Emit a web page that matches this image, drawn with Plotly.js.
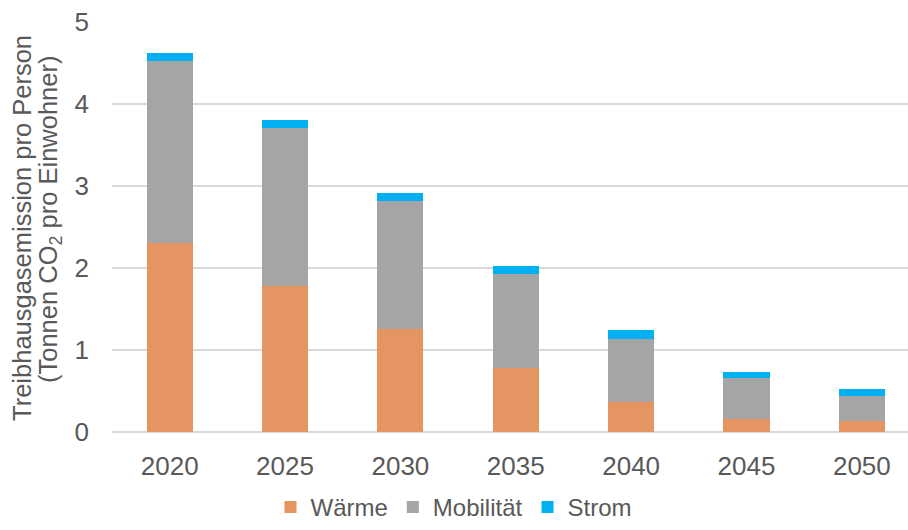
<!DOCTYPE html>
<html>
<head>
<meta charset="utf-8">
<script src="https://cdn.plot.ly/plotly-3.0.1.min.js"></script>
<style>html,body{margin:0;padding:0;background:#fff;}#chart{width:908px;height:530px;}</style>
</head>
<body>
<div id="chart"></div>
<script>
const years = ['2020','2025','2030','2035','2040','2045','2050'];
const waerme = [2.31, 1.78, 1.26, 0.78, 0.37, 0.155, 0.13];
const mobilitaet = [2.22, 1.93, 1.56, 1.15, 0.77, 0.50, 0.31];
const strom = [0.09, 0.09, 0.09, 0.09, 0.10, 0.08, 0.08];
const yTicks = [0, 1, 2, 3, 4, 5];
const yTitle1 = 'Treibhausgasemission pro Person';
const yTitle2 = '(Tonnen CO<sub>2</sub> pro Einwohner)';

const font = {family: 'Liberation Sans, Arial, sans-serif', color: '#595959'};

const traces = [
  {name: 'Wärme', x: years, y: waerme, type: 'bar', marker: {color: '#E59561'}},
  {name: 'Mobilität', x: years, y: mobilitaet, type: 'bar', marker: {color: '#A5A5A5'}},
  {name: 'Strom', x: years, y: strom, type: 'bar', marker: {color: '#00B0F0'}}
];

const layout = {
  width: 908, height: 530,
  barmode: 'stack',
  bargap: 0.6,
  margin: {l: 112, r: 0, t: 22, b: 98},
  paper_bgcolor: '#fff', plot_bgcolor: '#fff',
  font: Object.assign({size: 24}, font),
  xaxis: {
    type: 'category',
    range: [-0.5, 6.4],
    tickfont: Object.assign({size: 26}, font),
    ticks: '', ticklabelstandoff: 16,
    showline: false, showgrid: false
  },
  yaxis: {
    range: [0, 5],
    tickvals: yTicks,
    ticktext: yTicks.map(String),
    tickfont: Object.assign({size: 26}, font),
    ticks: '', ticklabelstandoff: 22,
    showgrid: true, gridcolor: '#D9D9D9', gridwidth: 1.5,
    zeroline: true, zerolinecolor: '#D9D9D9', zerolinewidth: 1.5,
    automargin: false
  },
  annotations: [
    {text: yTitle1, xref: 'paper', yref: 'paper', x: -0.1131, y: 0.4976,
     xanchor: 'center', yanchor: 'middle', textangle: -90, showarrow: false,
     font: Object.assign({size: 25.5}, font)},
    {text: yTitle2, xref: 'paper', yref: 'paper', x: -0.0779, y: 0.5195,
     xanchor: 'center', yanchor: 'middle', textangle: -90, showarrow: false,
     font: Object.assign({size: 25.5}, font)}
  ],
  showlegend: true,
  legend: {
    orientation: 'h',
    xref: 'container', yref: 'container',
    x: 0.5, xanchor: 'center',
    y: -0.015, yanchor: 'bottom',
    font: Object.assign({size: 24}, font),
    traceorder: 'normal',
    itemwidth: 30
  }
};

Plotly.newPlot('chart', traces, layout, {displayModeBar: false, staticPlot: true});
</script>
</body>
</html>
